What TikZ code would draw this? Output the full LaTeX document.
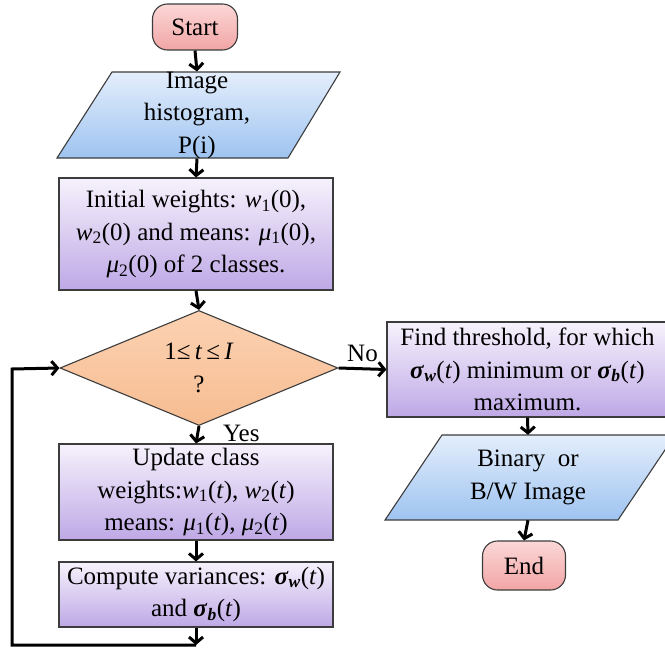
\documentclass[tikz,border=0pt]{standalone}
\usepackage{fontspec}
\setmainfont{Liberation Serif}
\usetikzlibrary{shapes.geometric,arrows.meta}
\definecolor{bordc}{RGB}{60,60,60}
\definecolor{pinkA}{RGB}{252,215,215}
\definecolor{pinkB}{RGB}{242,165,165}
\definecolor{blueA}{RGB}{228,238,252}
\definecolor{blueB}{RGB}{158,195,240}
\definecolor{lavA}{RGB}{246,242,252}
\definecolor{lavB}{RGB}{190,168,230}
\definecolor{oraA}{RGB}{252,210,178}
\definecolor{oraB}{RGB}{246,188,145}
\newcommand{\wi}[1]{\textit{w}\textsubscript{#1}}
\newcommand{\mui}[1]{\textit{μ}\textsubscript{#1}}
\newcommand{\sgw}{\textbf{\textit{σ}}\textsubscript{\textbf{\textit{w}}}}
\newcommand{\sgb}{\textbf{\textit{σ}}\textsubscript{\textbf{\textit{b}}}}
\tikzset{
  base/.style={font=\fontsize{25}{32.5}\selectfont, align=center, inner sep=0pt},
  term/.style={base, draw=bordc, line width=1.1pt, rounded corners=15pt, top color=pinkA, bottom color=pinkB},
  procbox/.style={base, draw=bordc, line width=1.1pt, top color=lavA, bottom color=lavB},
  iotext/.style={base},
  iobox/.style={draw=bordc, line width=1.1pt, top color=blueA, bottom color=blueB},
  decis/.style={base, diamond, aspect=2.4, draw=bordc, line width=1.1pt, top color=oraA, bottom color=oraB},
  conn/.style={line width=3pt, -{Straight Barb[length=6pt,width=14pt,line width=3pt]}},
  lbl/.style={font=\fontsize{25}{28}\selectfont, inner sep=0pt}
}
\begin{document}
\begin{tikzpicture}[x=1pt,y=-1pt]
\useasboundingbox (0,0) rectangle (665,651);
\clip (0,0) rectangle (665,651);
% shapes
\node[term, minimum width=85pt, minimum height=46pt] (start) at (195,27) {Start};
\shade[iobox] (112,72) -- (340,72) -- (288,158) -- (57,158) -- cycle;
\node[iotext, minimum height=86pt, minimum width=150pt] (hist) at (197,115) {Image\\histogram,\\P(i)};
\node[procbox, minimum width=274pt, minimum height=112pt] (init) at (196,234)
  {Initial weights: \wi{1}(0),\\ \wi{2}(0) and means: \mui{1}(0),\\ \mui{2}(0) of 2 classes.};
\node[decis, minimum width=278pt, minimum height=115pt] (dia) at (199,368) {1≤\,\textit{t}\,≤\,\textit{I}\\?};
\node[procbox, minimum width=274pt, minimum height=96pt] (upd) at (196,492)
  {Update class\\ weights:\wi{1}(\textit{t}), \wi{2}(\textit{t})\\ means: \mui{1}(\textit{t}), \mui{2}(\textit{t})};
\node[procbox, minimum width=274pt, minimum height=65pt] (comp) at (196,594.5)
  {Compute variances: \sgw(\textit{t})\\ and \sgb(\textit{t})};
\node[procbox, minimum width=281pt, minimum height=95pt] (find) at (527.5,369.5)
  {Find threshold, for which\\ \sgw(\textit{t}) minimum or \sgb(\textit{t})\\ maximum.};
\shade[iobox] (442,435) -- (675,435) -- (618,520) -- (385,520) -- cycle;
\node[iotext, minimum height=85pt, minimum width=150pt] (bin) at (528,477.5) {Binary~~or\\ B/W Image};
\node[term, minimum width=83pt, minimum height=49pt] (end) at (524,565.5) {End};
% connectors
\draw[conn] (start.south) -- (hist.north);
\draw[conn] (hist.south) -- (init.north);
\draw[conn] (init.south) -- (dia.north);
\draw[conn] (dia.south) -- (upd.north) node[lbl, pos=0.45, right=24pt] {Yes};
\draw[conn] (upd.south) -- (comp.north);
\coordinate (loopend) at (196,645);
\draw[conn] (comp.south) -- (loopend);
\draw[conn] (loopend) -- (12,645) -- (12,369) -- (dia.west);
\draw[conn] (dia.east) -- (find.west) node[lbl, midway, above=6pt] {No};
\draw[conn] (find.south) -- (bin.north);
\draw[conn] (bin.south) -- (end.north);
\end{tikzpicture}
\end{document}
